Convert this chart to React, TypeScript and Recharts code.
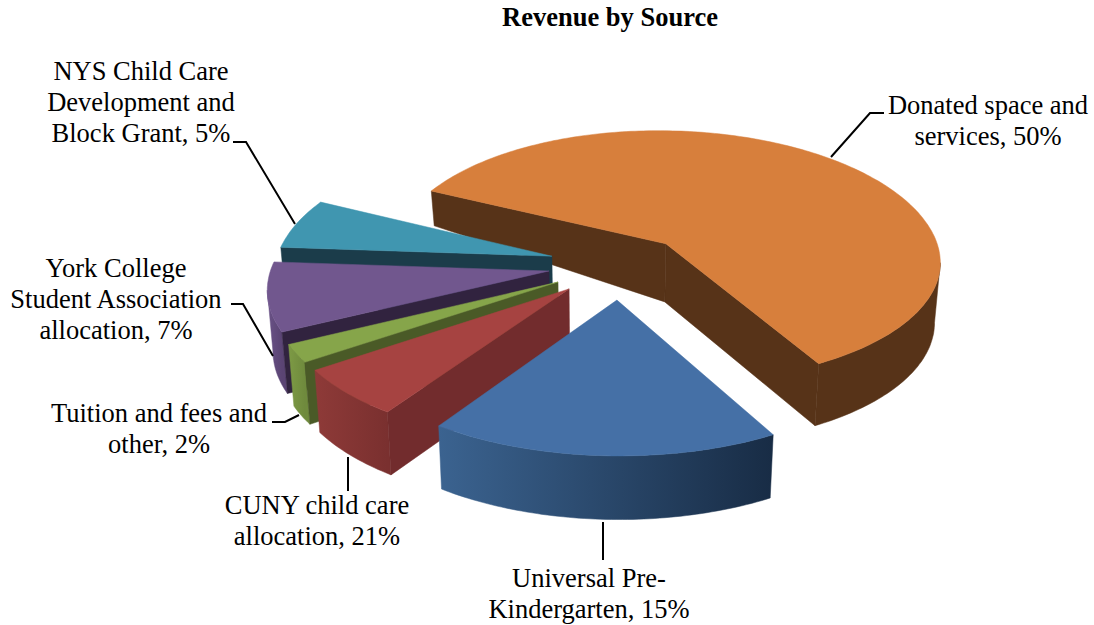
import { Pie, PieChart } from "recharts";

// arc sizes as drawn (percent of the circle), counter-clockwise from Donated
const sliceShares = [59.56, 6.1, 8.2, 2.15, 5.9, 18.05];
// the percentages the labels print, which differ from the drawn arcs
const labelPercents = [50, 5, 7, 2, 21, 15];
const labelLines = [
  ["Donated space and", "services"],
  ["NYS Child Care", "Development and", "Block Grant"],
  ["York College", "Student Association", "allocation"],
  ["Tuition and fees and", "other"],
  ["CUNY child care", "allocation"],
  ["Universal Pre-", "Kindergarten"],
];
const topColors = ["#D77F3C", "#4096B0", "#71578E", "#86A54A", "#A64341", "#4570A6"];
const sideColors = ["#573318", "#1B3C4A", "#31233F", "#4A5A27", "#722C2D", "#1B3148"];
const rimFrom = ["#573318", "#2F6A7E", "#6A5287", "#7D9A45", "#8E3A38", "#3B6390"];
const rimTo = ["#573318", "#2F6A7E", "#5A4473", "#6F8A3D", "#7A302F", "#182C45"];

// how far each slice is pulled out of the pie, in radius units (right, towards viewer)
const pullOut = [
  [0.243, -0.163],
  [-0.175, -0.067],
  [-0.183, 0.045],
  [-0.149, 0.126],
  [-0.109, 0.176],
  [0.059, 0.255],
];

const labelPlace = [
  { x: 988, y: 114 },
  { x: 141, y: 80 },
  { x: 116, y: 277 },
  { x: 159, y: 422 },
  { x: 317, y: 514 },
  { x: 589, y: 587 },
];
const leaders = [
  "831,157 870,113 884,113",
  "295,224 246,142 233,142",
  "273,356 243,304 231,304",
  "299,415 285,422 272,422",
  "348,457 348,491 348,491",
  "603,522 603,560 603,560",
];

const FONT = "'Liberation Serif', 'Times New Roman', serif";
const TILT = 0.48;
const PERSPECTIVE = 0.13;
// the front of the rim sits a little closer in than a true circle would
const FRONT_PINCH = 0.045;

type Pt = [number, number];

function project(cx: number, cy: number, r: number, u: number, v: number): Pt {
  const f = 1 / (1 - PERSPECTIVE * v);
  return [cx + r * u * f, cy + r * TILT * v * f];
}

const toPath = (pts: Pt[]) =>
  "M" + pts.map((p) => `${p[0].toFixed(1)},${p[1].toFixed(1)}`).join("L") + "Z";

function Slice3D(props: any) {
  const { cx, cy, outerRadius: r, startAngle, endAngle, index } = props;
  const i: number = index ?? props.payload?.idx;
  const [pu, pv] = pullOut[i];
  const low = Math.min(startAngle, endAngle);
  const high = Math.max(startAngle, endAngle);

  const disc: Pt[] = [[pu, pv]];
  for (let a = low; ; a += 1) {
    const t = (Math.min(a, high) * Math.PI) / 180;
    const s = Math.sin(t);
    const reach = s < 0 ? 1 - FRONT_PINCH * s * s : 1;
    disc.push([pu + reach * Math.cos(t), pv - reach * s]);
    if (a >= high) break;
  }
  disc.push([pu, pv]);

  const top = disc.map((d) => project(cx, cy, r, d[0], d[1]));
  const bottom: Pt[] = top.map((p, k) => {
    const v = disc[k][1];
    const depth = v >= 0 ? 60 + 3 * v : 60 - 70 * v * v;
    return [cx + (p[0] - cx) * 0.983, p[1] + depth];
  });

  const faces: { d: string; rim: boolean }[] = [];
  let run: number[] = [];
  const flush = () => {
    if (run.length) {
      const a = [...run, run[run.length - 1] + 1];
      faces.push({
        d: toPath([...a.map((k) => top[k]), ...a.slice().reverse().map((k) => bottom[k])]),
        rim: true,
      });
      run = [];
    }
  };
  const last = top.length - 2;
  for (let k = 0; k <= last; k++) {
    const front = top[k + 1][0] > top[k][0];
    const radial = k === 0 || k === last;
    if (radial || !front) flush();
    if (front && radial) {
      faces.push({ d: toPath([top[k], top[k + 1], bottom[k + 1], bottom[k]]), rim: false });
    } else if (front) {
      run.push(k);
    }
  }
  flush();

  const xs = top.slice(1, -1).map((p) => p[0]);
  const gradId = `rim-${i}`;
  return (
    <g>
      <defs>
        <linearGradient
          id={gradId}
          gradientUnits="userSpaceOnUse"
          x1={Math.min(...xs)}
          x2={Math.max(...xs)}
          y1={0}
          y2={0}
        >
          <stop offset="0%" stopColor={rimFrom[i]} />
          <stop offset="100%" stopColor={rimTo[i]} />
        </linearGradient>
      </defs>
      {faces.map((face, k) => (
        <path
          key={k}
          d={face.d}
          fill={face.rim ? `url(#${gradId})` : sideColors[i]}
          stroke={face.rim ? `url(#${gradId})` : sideColors[i]}
          strokeWidth={0.5}
        />
      ))}
      <path d={toPath(top)} fill={topColors[i]} stroke={topColors[i]} strokeWidth={0.5} />
    </g>
  );
}

function SliceLabel(props: any) {
  const i: number = props.index;
  const place = labelPlace[i];
  const lines = labelLines[i];
  return (
    <g>
      <polyline points={leaders[i]} fill="none" stroke="#000" strokeWidth={2} />
      <text fontFamily={FONT} fontSize={26.5} fill="#000" textAnchor="middle">
        {lines.map((line, k) => (
          <tspan key={k} x={place.x} y={place.y + k * 31}>
            {k === lines.length - 1 ? `${line}, ${labelPercents[i]}%` : line}
          </tspan>
        ))}
      </text>
    </g>
  );
}

const pieData = sliceShares.map((value, idx) => ({ value, idx }));

export default function App() {
  return (
    <div style={{ position: "absolute", left: 0, top: 0, width: 1094, height: 625 }}>
      <PieChart width={1094} height={625} margin={{ top: 0, right: 0, bottom: 0, left: 0 }}>
        <text
          x={610}
          y={26}
          textAnchor="middle"
          fontFamily={FONT}
          fontSize={26.5}
          fontWeight="bold"
          fill="#000"
        >
          Revenue by Source
        </text>
        <Pie
          data={pieData}
          dataKey="value"
          cx={600}
          cy={265}
          outerRadius={277}
          startAngle={299.6}
          endAngle={659.6}
          stroke="none"
          isAnimationActive={false}
          shape={Slice3D}
          label={SliceLabel}
          labelLine={false}
        />
      </PieChart>
    </div>
  );
}
